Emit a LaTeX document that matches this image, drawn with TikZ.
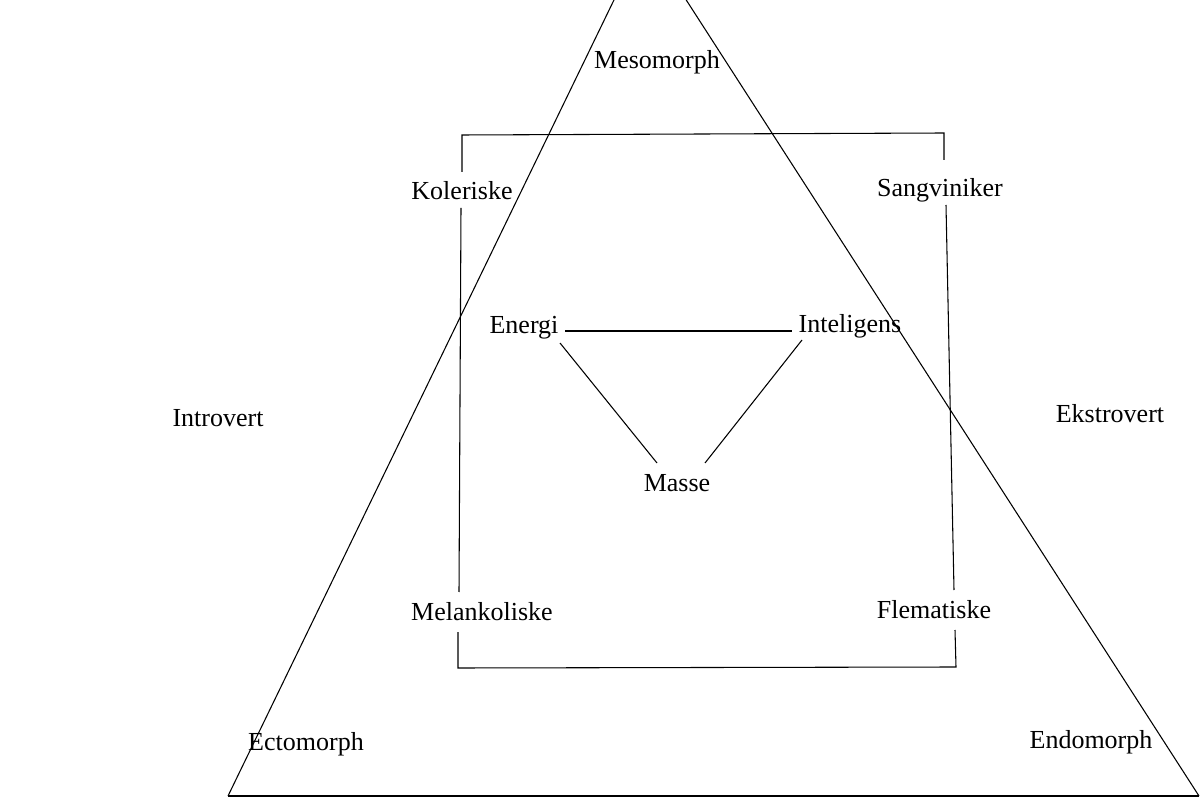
\documentclass[tikz,border=0pt]{standalone}
\usepackage{fontspec}
\setmainfont{Liberation Serif}
\begin{document}
\begin{tikzpicture}[x=0.75pt,y=-0.75pt,
  lbl/.style={inner sep=0pt,font=\fontsize{19.5}{23}\selectfont},
  ln/.style={line width=0.8pt,black}]
\useasboundingbox (0,0) rectangle (1204,798);
\fill[white] (0,0) rectangle (1204,798);
\begin{scope}
\clip (0,0) rectangle (1204,798);
% big triangle
\coordinate (apex) at (645,-64);
\coordinate (bl) at (228,796);
\coordinate (br) at (1199,796);
\draw[ln] (bl) -- (apex) -- (br);
\draw[ln] (bl) -- (br);
\end{scope}
% rectangle corners and gaps
\coordinate (r1) at (462,135);
\coordinate (r2) at (944,133);
\coordinate (r3) at (956,667);
\coordinate (r4) at (458,668);
\coordinate (la) at (462,172);
\coordinate (lb) at (461,208);
\coordinate (lc) at (459,592);
\coordinate (ld) at (458,632);
\coordinate (ra) at (944,160);
\coordinate (rb) at (946,205);
\coordinate (rc) at (954,590);
\coordinate (rd) at (955,630);
\draw[ln] (la) -- (r1) -- (r2) -- (ra);
\draw[ln] (lb) -- (lc);
\draw[ln] (rb) -- (rc);
\draw[ln] (ld) -- (r4) -- (r3) -- (rd);
% labels
\node[lbl] (meso) at (657,62) {Mesomorph};
\node[lbl] (kol) at (462,191) {Koleriske};
\node[lbl] (sang) at (940,190) {Sangviniker};
\node[lbl] (energi) at (524,328) {Energi};
\node[lbl] (intel) at (850,326) {Inteligens};
\node[lbl] (intro) at (218,418) {Introvert};
\node[lbl] (ekstro) at (1110,414) {Ekstrovert};
\node[lbl] (masse) at (677,483) {Masse};
\node[lbl] (mel) at (482,612) {Melankoliske};
\node[lbl] (flem) at (934,610) {Flematiske};
\node[lbl] (ecto) at (306,744) {Ectomorph};
\node[lbl] (endo) at (1091,742) {Endomorph};
% inner triangle
\coordinate (e1) at (565,331);
\coordinate (i1) at (792,331);
\coordinate (e2) at (560,343);
\coordinate (m1) at (657,463);
\coordinate (i2) at (802,340);
\coordinate (m2) at (705,463);
\draw[ln] (e1) -- (i1);
\draw[ln] (e2) -- (m1);
\draw[ln] (i2) -- (m2);
\end{tikzpicture}
\end{document}
